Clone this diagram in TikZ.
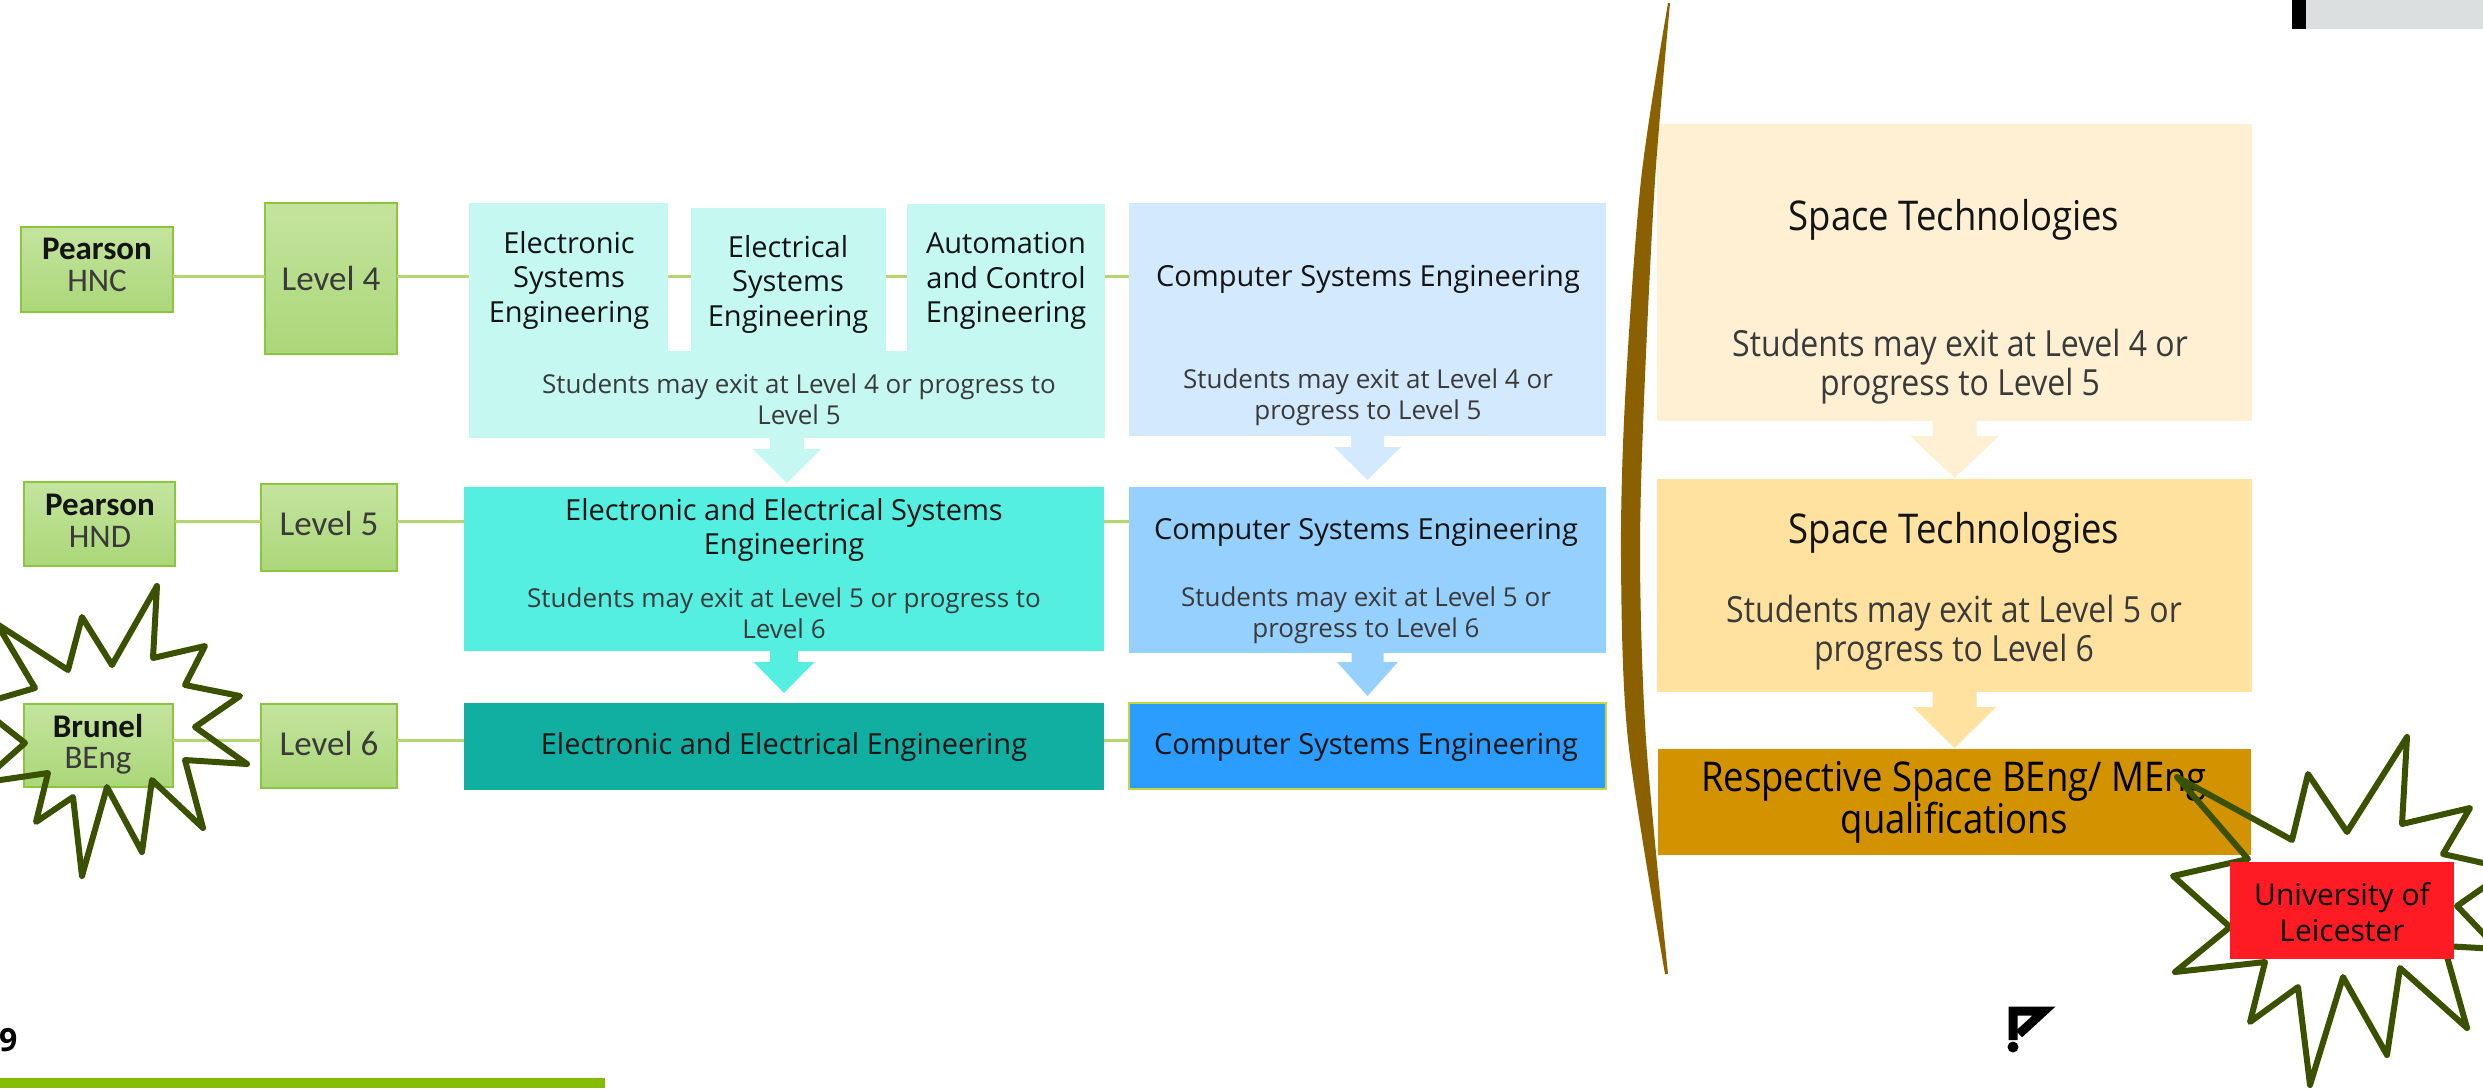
\documentclass[tikz,border=0pt]{standalone}
\usepackage{fontspec}
\setmainfont{Open Sans}
\newfontfamily\carl{Carlito}
\newfontfamily\osn[FakeStretch=0.89]{Open Sans}
\usetikzlibrary{calc}
\definecolor{grLine}{RGB}{180,216,110}
\definecolor{grBorder}{RGB}{140,198,63}
\definecolor{grTop}{RGB}{196,228,158}
\definecolor{grBot}{RGB}{170,215,120}
\definecolor{cyA}{RGB}{196,248,241}
\definecolor{blA}{RGB}{211,233,253}
\definecolor{cyB}{RGB}{85,239,225}
\definecolor{blB}{RGB}{150,208,255}
\definecolor{cyC}{RGB}{17,174,162}
\definecolor{blC}{RGB}{42,157,255}
\definecolor{blCb}{RGB}{196,214,70}
\definecolor{spA}{RGB}{255,240,211}
\definecolor{spB}{RGB}{255,225,160}
\definecolor{spC}{RGB}{211,146,0}
\definecolor{brn}{RGB}{139,97,0}
\definecolor{burst}{RGB}{58,82,0}
\definecolor{redbox}{RGB}{255,27,36}
\definecolor{barG}{RGB}{132,188,0}
\definecolor{grayBar}{RGB}{220,223,223}
\definecolor{txt}{RGB}{20,20,20}
\definecolor{txtG}{RGB}{58,58,58}
\newcommand\bx[6]{\node[#6,anchor=north west,inner sep=0pt,outer sep=0pt,minimum width={(#4-#2)*1pt},minimum height={(#5-#3)*1pt}] (#1) at (#2,#3) {};}
\newcommand\dnarrow[6]{\fill[#2] ($(#1.south)+(-#3,-1)$) -- ($(#1.south)+(-#3,#5)$) -- ($(#1.south)+(-#4,#5)$) -- ($(#1.south)+(0,#6)$) -- ($(#1.south)+(#4,#5)$) -- ($(#1.south)+(#3,#5)$) -- ($(#1.south)+(#3,-1)$) -- cycle;}
\begin{document}
\begin{tikzpicture}[x=1pt,y=-1pt,
  gbox/.style={draw=grBorder,line width=2pt,top color=grTop,bottom color=grBot},
  conn/.style={draw=grLine,line width=3pt},
  ttl/.style={align=center,inner sep=0pt,text=txt,font=\fontsize{29}{34.5}\selectfont},
  sub/.style={align=center,inner sep=0pt,text=txtG,font=\fontsize{26}{31}\selectfont},
  gtxt/.style={align=center,inner sep=0pt,text=txtG,font=\carl\fontsize{35}{35}\selectfont},
  qual/.style={align=center,inner sep=0pt,text=txtG,font=\carl\fontsize{33}{31.5}\selectfont},
  spttl/.style={align=center,inner sep=0pt,text=txt,font=\osn\fontsize{41}{41}\selectfont},
  spsub/.style={align=center,inner sep=0pt,text=txtG,font=\osn\fontsize{36}{39}\selectfont},
  burstline/.style={draw=burst,line width=6pt,line join=round}
]
\useasboundingbox (0,0) rectangle (2483,1088);
% row reference heights
\coordinate (ya) at (0,276);
\coordinate (yb) at (0,521);
\coordinate (yc) at (0,740);
% ---------- green level boxes
\bx{hnc}{21}{227}{173}{312}{gbox}
\bx{l4}{265}{203}{397}{354}{gbox}
\bx{hnd}{24}{482}{175}{566}{gbox}
\bx{l5}{261}{484}{397}{571}{gbox}
\bx{bru}{24}{704}{173}{787}{gbox}
\bx{l6}{261}{704}{397}{788}{gbox}
% ---------- row 1
\bx{e1}{469}{203}{668}{352}{fill=cyA}
\bx{e2}{691}{208}{886}{352}{fill=cyA}
\bx{e3}{907}{204}{1105}{352}{fill=cyA}
\bx{r1c}{469}{351}{1105}{438}{fill=cyA}
\bx{c1}{1129}{203}{1606}{436}{fill=blA}
% ---------- row 2
\bx{r2c}{464}{487}{1104}{651}{fill=cyB}
\bx{r2b}{1129}{487}{1606}{653}{fill=blB}
% ---------- row 3
\bx{r3c}{464}{703}{1104}{790}{fill=cyC}
\bx{r3b}{1129}{703}{1606}{789}{fill=blC,draw=blCb,line width=2pt}
% ---------- space column
\bx{s1}{1657}{124}{2252}{421}{fill=spA}
\bx{s2}{1657}{479}{2252}{692}{fill=spB}
\bx{resp}{1658}{749}{2251}{855}{fill=spC}
% ---------- connectors
\draw[conn] (hnc.east |- ya) -- (l4.west |- ya);
\draw[conn] (l4.east |- ya) -- (e1.west |- ya);
\draw[conn] (e1.east |- ya) -- (e2.west |- ya);
\draw[conn] (e2.east |- ya) -- (e3.west |- ya);
\draw[conn] (e3.east |- ya) -- (c1.west |- ya);
\draw[conn] (hnd.east |- yb) -- (l5.west |- yb);
\draw[conn] (l5.east |- yb) -- (r2c.west |- yb);
\draw[conn] (r2c.east |- yb) -- (r2b.west |- yb);
\draw[conn] (bru.east |- yc) -- (l6.west |- yc);
\draw[conn] (l6.east |- yc) -- (r3c.west |- yc);
\draw[conn] (r3c.east |- yc) -- (r3b.west |- yc);
% ---------- block arrows
\dnarrow{r1c}{cyA}{17}{34}{11}{45}
\dnarrow{c1}{blA}{16.5}{33.5}{11}{44}
\dnarrow{r2c}{cyB}{14}{30.5}{11}{42}
\dnarrow{r2b}{blB}{16}{30.5}{9}{43}
\dnarrow{s1}{spA}{22}{44.5}{15}{57}
\dnarrow{s2}{spB}{22}{41.5}{15}{56}
% ---------- texts green boxes
\node[qual] (t-hnc) at (97,265) {{\bfseries\color{txt}Pearson}\\HNC};
\node[qual] (t-hnd) at (100,521) {{\bfseries\color{txt}Pearson}\\HND};
\node[qual] (t-bru) at (98,744) {{\bfseries\color{txt}Brunel}\\BEng};
\node[gtxt] (t-l4) at (331,278) {Level 4};
\node[gtxt] (t-l5) at (329,523) {Level 5};
\node[gtxt] (t-l6) at (329,743) {Level 6};
% ---------- texts row 1
\node[ttl] (t-e1) at (569,280) {Electronic\\Systems\\Engineering};
\node[ttl] (t-e2) at (788,284) {Electrical\\Systems\\Engineering};
\node[ttl] (t-e3) at (1006,281) {Automation\\and Control\\Engineering};
\node[sub] (t-r1) at (799,399) {Students may exit at Level 4 or progress to\\Level 5};
\node[ttl] (t-c1) at (1368,279) {Computer Systems Engineering};
\node[sub] (t-c1s) at (1368,397) {Students may exit at Level 4 or\\progress to Level 5};
% ---------- texts row 2
\node[ttl] (t-r2c) at (784,530) {Electronic and Electrical Systems\\Engineering};
\node[sub] (t-r2cs) at (784,613) {Students may exit at Level 5 or progress to\\Level 6};
\node[ttl] (t-r2b) at (1366,532) {Computer Systems Engineering};
\node[sub] (t-r2bs) at (1366,615) {Students may exit at Level 5 or\\progress to Level 6};
% ---------- texts row 3
\node[ttl] (t-r3c) at (784,747) {Electronic and Electrical Engineering};
\node[ttl] (t-r3b) at (1366,747) {Computer Systems Engineering};
% ---------- texts space column
\node[spttl] (t-s1) at (1954,220) {Space Technologies};
\node[spsub] (t-s1s) at (1960,367) {Students may exit at Level 4 or\\progress to Level 5};
\node[spttl] (t-s2) at (1954,533) {Space Technologies};
\node[spsub] (t-s2s) at (1954,633) {Students may exit at Level 5 or\\progress to Level 6};
\node[spttl,text=black,font=\osn\fontsize{41}{40}\selectfont] (t-resp) at (1954,802) {Respective Space BEng/ MEng\\qualifications};
% ---------- brown divider
\fill[brn] plot[smooth] coordinates {(1668,3) (1641,180) (1625,400) (1621,560) (1628,740) (1665,974)}
  -- plot[smooth] coordinates {(1668,974) (1646,740) (1640,560) (1644,400) (1655,180) (1670,3)} -- cycle;
% ---------- starbursts
\draw[burstline] (-3,624) -- (35,688) -- (-23,705) -- (25,743) -- (-20,783) -- (48,773) -- (36,822) -- (73,797) -- (82,876) -- (107,787) -- (142,852) -- (152,780) -- (203,828) -- (185,760) -- (247,764) -- (195,727) -- (240,696) -- (185,685) -- (205,646) -- (153,658) -- (157,586) -- (112,665) -- (82,617) -- (68,670) -- cycle;
\draw[burstline] (2177,777) -- (2292,840) -- (2308,774) -- (2347,832) -- (2407,737) -- (2402,824) -- (2470,808) -- (2443,854) -- (2510,869) -- (2457,906) -- (2498,949) -- (2444,946) -- (2467,1028) -- (2400,968) -- (2387,1055) -- (2343,977) -- (2310,1085) -- (2298,987) -- (2250,1022) -- (2265,962) -- (2175,972) -- (2230,927) -- (2173,876) -- (2248,859) -- cycle;
\bx{uol}{2230}{862}{2454}{959}{fill=redbox}
\node[align=center,inner sep=0pt,text=black,font=\fontsize{30}{36}\selectfont] (t-uol) at (2342,912) {University of\\Leicester};
% ---------- page furniture
\bx{gbar}{2306}{0}{2483}{29}{fill=grayBar}
\bx{kbar}{2292}{0}{2306}{29}{fill=black}
\bx{fbar}{0}{1078}{605}{1088}{fill=barG}
\node[anchor=base west,inner sep=0pt,text=black,font=\bfseries\fontsize{32}{32}\selectfont] (pg) at (-1,1051) {9};
\draw[line width=9pt,black] (2013,1040) -- (2013,1011) -- (2044,1011) -- (2019,1034);
\fill[black] (2013,1047) circle (5.5);
\end{tikzpicture}
\end{document}
